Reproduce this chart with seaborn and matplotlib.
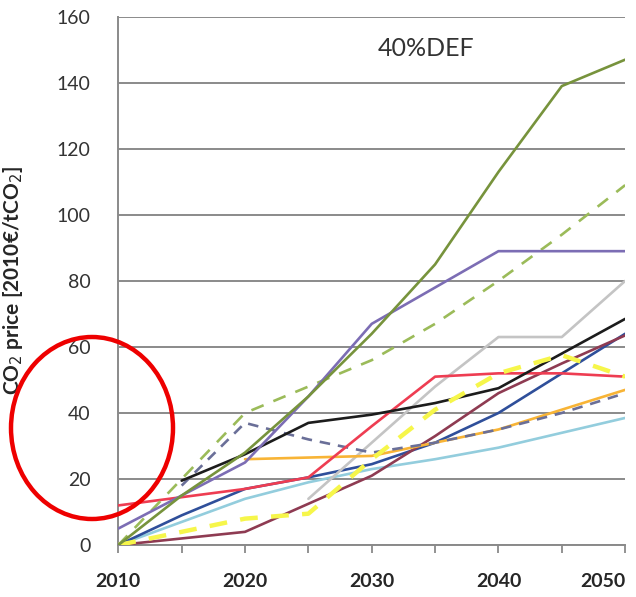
import matplotlib
matplotlib.use("Agg")
import matplotlib.pyplot as plt
from matplotlib.patches import Ellipse
import numpy as np
import pandas as pd
import seaborn as sns

YEARS = [2010, 2015, 2020, 2025, 2030, 2035, 2040, 2045, 2050]
nan = np.nan

olive_solid = [0, 15, 28, 45, 64, 85, 113, 139, 147]
olive_dashed = [0, 20, 40, 48, 56, 67, 80, 94, 109]
purple = [5, 15, 25, 45, 67, 78, 89, 89, 89]
black = [nan, 19.5, 27.5, 37, 39.5, 43, 47.5, 58, 68.5]
red = [12, 14.5, 17, 20.5, 36, 51, 52, 52, 51]
light_gray = [nan, nan, nan, 14, 31, 48, 63, 63, 80]
orange = [nan, nan, 26, 26.5, 27, 31, 35, 41, 47]
slate_dashed = [nan, 18, 37, 32, 28, 31, 35, 40, 46]
blue = [0, 9, 17, 20.5, 24.5, 31, 40, 52, 64]
light_blue = [0, 7, 14, 19, 23, 26, 29.5, 34, 38.5]
maroon = [0, 2, 4, 12.5, 21, 33, 46, 55, 63.5]
yellow_dashed = [0, 4, 8, 9.5, 26, 41, 52, 57.5, 51]

SERIES = {
    "light_blue": light_blue,
    "blue": blue,
    "maroon": maroon,
    "light_gray": light_gray,
    "orange": orange,
    "slate_dashed": slate_dashed,
    "red": red,
    "black": black,
    "yellow_dashed": yellow_dashed,
    "olive_dashed": olive_dashed,
    "purple": purple,
    "olive_solid": olive_solid,
}

COLORS = {
    "light_blue": "#93CDDD",
    "blue": "#2F4F9A",
    "maroon": "#8E3B52",
    "light_gray": "#C4C4C4",
    "orange": "#F8B436",
    "slate_dashed": "#6A6F98",
    "red": "#EE3D52",
    "black": "#1C1C1C",
    "yellow_dashed": "#F6F64A",
    "olive_dashed": "#9BBB59",
    "purple": "#7C6DB4",
    "olive_solid": "#77933C",
}

DASHES = {k: "" for k in SERIES}
DASHES["slate_dashed"] = (4, 3)
DASHES["olive_dashed"] = (5, 4)
DASHES["yellow_dashed"] = (4, 3)

frames = []
for name, vals in SERIES.items():
    frames.append(pd.DataFrame({"year": YEARS, "price": vals, "series": name}))
df = pd.concat(frames, ignore_index=True).dropna()

sns.set_theme(style="white")
plt.rcParams["font.family"] = ["Lato", "DejaVu Sans"]

fig = plt.figure(figsize=(6.36, 5.97), dpi=100)
ax = fig.add_axes([0.186, 0.087, 0.797, 0.885])

sns.lineplot(
    data=df, x="year", y="price", hue="series", style="series",
    palette=COLORS, dashes=DASHES, hue_order=list(SERIES), style_order=list(SERIES),
    estimator=None, linewidth=1.9, legend=False, ax=ax, zorder=3,
)
for line in ax.get_lines():
    if line.get_color().lower() == COLORS["yellow_dashed"].lower():
        line.set_linewidth(3.2)

ax.set_xlim(2010, 2050)
ax.set_ylim(0, 160)
ax.set_yticks(range(0, 161, 20))
ax.set_xticks(range(2010, 2051, 5), minor=True)
ax.set_xticks(range(2010, 2051, 10))
ax.yaxis.grid(True, color="#8A8A8A", linewidth=1.4)
ax.set_axisbelow(True)
for side in ["top", "right"]:
    ax.spines[side].set_visible(False)
for side in ["left", "bottom"]:
    ax.spines[side].set_color("#8A8A8A")
    ax.spines[side].set_linewidth(1.4)

ax.tick_params(axis="x", which="both", direction="out", length=6, width=1.3,
               color="#8A8A8A", bottom=True, pad=14)
ax.tick_params(axis="x", labelsize=14, labelcolor="#262626")
ax.tick_params(axis="y", length=0, labelsize=14, labelcolor="#333333", pad=20)
xlabels = ax.get_xticklabels()
for lab in xlabels:
    lab.set_fontweight("bold")
xlabels[-1].set_horizontalalignment("right")

ax.set_xlabel("")
ax.set_ylabel("CO$_2$ price [2010€/tCO$_2$]", fontsize=15, fontweight="bold",
              color="#262626", labelpad=8)
ax.yaxis.set_label_coords(-0.185, 0.5)

ax.text(0.607, 0.94, "40%DEF", transform=ax.transAxes, fontsize=18,
        color="#333333", ha="center", va="center")

fig.add_artist(Ellipse((92 / 636, 1 - 428 / 597), 162 / 636, 182 / 597,
                       transform=fig.transFigure, fill=False,
                       edgecolor="#EE0000", linewidth=3.2, zorder=10))

fig.savefig("out.png", dpi=100)
